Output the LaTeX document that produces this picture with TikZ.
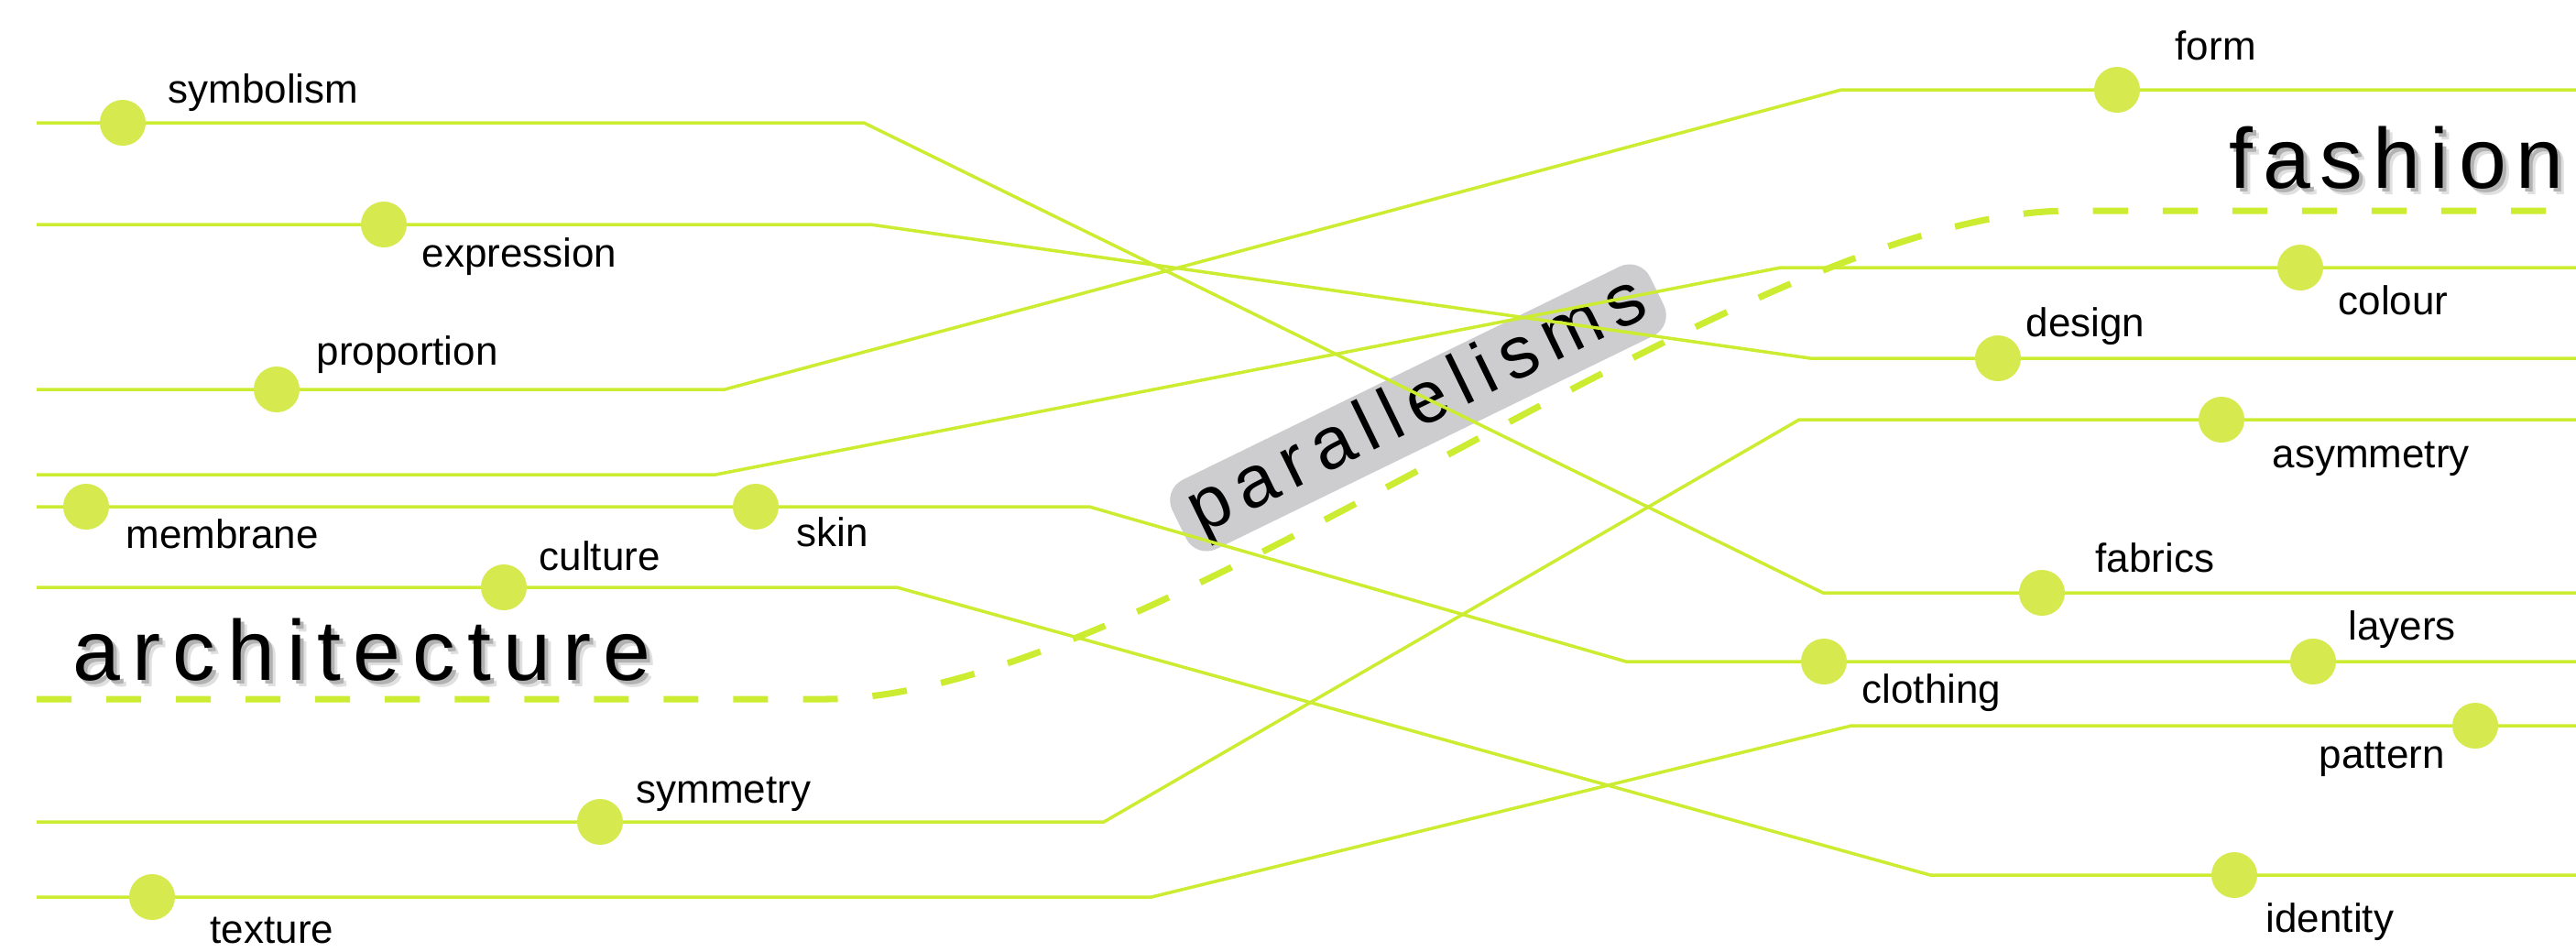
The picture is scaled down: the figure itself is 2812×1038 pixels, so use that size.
\documentclass[tikz,border=0pt]{standalone}
\usepackage{fontspec}
\setmainfont{Liberation Sans}
\newfontfamily\spacedfont[LetterSpace=14]{Liberation Sans}
\newfontfamily\tightfont[LetterSpace=11.5]{Liberation Sans}
\usetikzlibrary{positioning}
\definecolor{trackgreen}{RGB}{204,236,50}
\definecolor{dotgreen}{RGB}{214,233,78}
\definecolor{tagfill}{RGB}{205,205,208}

\begin{document}
\begin{tikzpicture}[x=0.01cm, y=-0.01cm,
  every node/.style={font=\fontsize{12.5}{15}\selectfont},
  track/.style={draw=trackgreen, line width=1pt},
  border/.style={draw=trackgreen, line width=2pt, dash pattern=on 0.38cm off 0.38cm},
  stop/.style={circle, fill=dotgreen, minimum size=0.5cm, inner sep=0pt},
  term/.style={anchor=base west, inner sep=0pt},
  realm/.style={anchor=base west, inner sep=0pt, font=\fontsize{26.5}{30}\spacedfont},
  tagbox/.style={rectangle, rounded corners=0.25cm, fill=tagfill, minimum width=5.8cm,
                 minimum height=0.84cm, inner sep=0pt, font=\fontsize{22.8}{26}\spacedfont}
]
\useasboundingbox (0,0) rectangle (2812,1038);

% Tag on the border
\node[tagbox, rotate=26] (par) at (1548,445) {parallelisms};

% Dashed border between the two fields
\coordinate (bw) at (40,763);
\coordinate (ba) at (900,763);
\coordinate (bb) at (2260,230);
\coordinate (be) at (2812,230);
\draw[border] (bw) -- (ba) .. controls (1260,763) and (1900,230) .. (bb) -- (be);

% Tracks: left height / first bend / second bend / right height
\foreach \ya/\xa/\xb/\yb [count=\i] in {134/943/1990/647, 245/950/1976/391,
    425/791/2010/98, 518/781/1944/292, 553/1189/1775/722, 641/979/2107/955,
    897/1205/1964/458, 979/1257/2021/792}
{
  \coordinate (t\i-w) at (40,\ya);
  \coordinate (t\i-a) at (\xa,\ya);
  \coordinate (t\i-b) at (\xb,\yb);
  \coordinate (t\i-e) at (2812,\yb);
  \draw[track] (t\i-w) -- (t\i-a) -- (t\i-b) -- (t\i-e);
}

% Stops on the tracks
\foreach \name/\x/\y in {symbolism/134/134, expression/419/245, proportion/302/425,
    membrane/94/553, skin/825/553, culture/550/641, symmetry/655/897, texture/166/979,
    form/2311/98, colour/2511/292, design/2181/391, asymmetry/2425/458,
    fabrics/2229/647, clothing/1991/722, layers/2525/722, pattern/2702/792,
    identity/2439/955}
  \node[stop] (\name) at (\x,\y) {};

% Stop labels
\foreach \name/\x/\y in {symbolism/183/112, expression/460/291, proportion/345/398,
    membrane/137/598, skin/869/596, culture/588/622, symmetry/694/876, texture/229/1029,
    form/2374/65, colour/2552/343, design/2211/367, asymmetry/2480/510,
    fabrics/2287/624, clothing/2032/767, layers/2563/698, pattern/2531/838,
    identity/2473/1017}
  \node[term] (\name-txt) at (\x,\y) {\name};

% Field titles with a soft shadow
\node[realm, text=black!12] (arch-sh2) at (86,749) {architecture};
\node[realm, text=black!30] (arch-sh1) at (83,746) {architecture};
\node[realm] (arch) at (79,742) {architecture};
\begin{scope}[realm/.append style={font=\fontsize{26.5}{30}\tightfont}]
\node[realm, text=black!12] (fash-sh2) at (2440,212) {fashion};
\node[realm, text=black!30] (fash-sh1) at (2437,209) {fashion};
\node[realm] (fash) at (2433,205) {fashion};
\end{scope}
\end{tikzpicture}
\end{document}
